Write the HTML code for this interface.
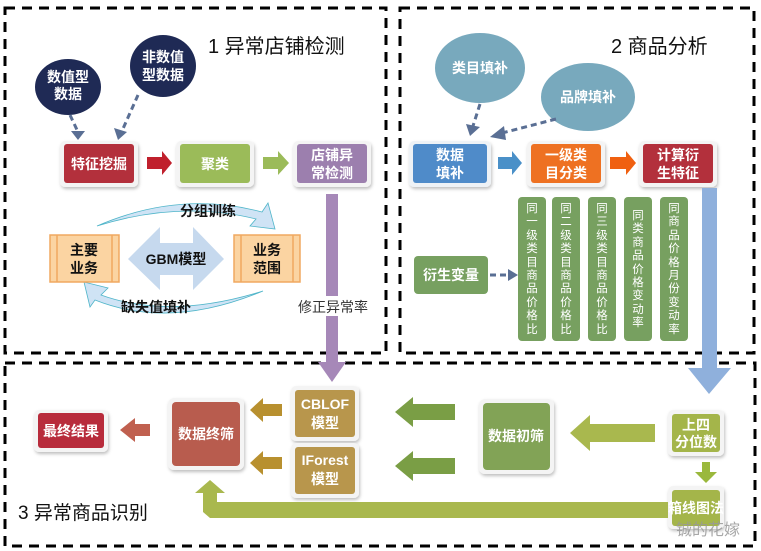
<!DOCTYPE html>
<html><head><meta charset="utf-8"><style>
body{margin:0;background:#fff;}
svg{display:block;font-family:"Liberation Sans","Noto Sans CJK SC",sans-serif;}
.w{fill:#fff;font-weight:bold;font-size:14px;text-anchor:middle;}
.b{fill:#111;font-weight:bold;font-size:14px;text-anchor:middle;}
</style></head><body>
<svg width="761" height="551" viewBox="0 0 761 551">
<defs>
<filter id="s" x="-20%" y="-20%" width="140%" height="140%"><feDropShadow dx="1" dy="2" stdDeviation="1.5" flood-color="#000" flood-opacity="0.25"/></filter>
</defs>
<g fill="none" stroke="#000" stroke-width="3" stroke-dasharray="10,7">
<rect x="5" y="8" width="381" height="345"/>
<rect x="400" y="8" width="354" height="345"/>
<rect x="5" y="363" width="750" height="183"/>
</g>
<text x="208" y="53" font-size="20" fill="#111">1  异常店铺检测</text>
<text x="611" y="53" font-size="20" fill="#111">2  商品分析</text>
<text x="18" y="519" font-size="19" fill="#111">3 异常商品识别</text>

<!-- section 1 -->
<ellipse cx="68" cy="87" rx="33" ry="28" fill="#1f2a55"/>
<text class="w" x="68" y="82">数值型</text><text class="w" x="68" y="99">数据</text>
<ellipse cx="163" cy="66" rx="33" ry="31" fill="#1f2a55"/>
<text class="w" x="163" y="62">非数值</text><text class="w" x="163" y="80">型数据</text>
<g stroke="#5a6f94" stroke-width="3" stroke-dasharray="6,4" fill="none">
<line x1="70" y1="115" x2="78" y2="132"/><line x1="138" y1="95" x2="122" y2="131"/>
</g>
<polygon points="71,131 85,131 78,140" fill="#5a6f94"/>
<polygon points="114,128 127,132 118,140" fill="#5a6f94"/>

<rect x="60" y="141" width="78" height="46" rx="5" fill="#f4f4f4" filter="url(#s)"/>
<rect x="64" y="144" width="70" height="39" rx="3" fill="#b3303c"/>
<text class="w" x="99" y="169">特征挖掘</text>
<polygon points="147,157 162,157 162,151 172,163 162,175 162,169 147,169" fill="#c0202d"/>
<rect x="176" y="141" width="78" height="46" rx="5" fill="#f4f4f4" filter="url(#s)"/>
<rect x="180" y="144" width="70" height="39" rx="3" fill="#9bbb59"/>
<text class="w" x="215" y="169">聚类</text>
<polygon points="263,157 278,157 278,151 289,163 278,175 278,169 263,169" fill="#9bbb59"/>
<rect x="293" y="141" width="78" height="46" rx="5" fill="#f4f4f4" filter="url(#s)"/>
<rect x="297" y="144" width="70" height="39" rx="3" fill="#9c7fae"/>
<text class="w" x="332" y="160">店铺异</text><text class="w" x="332" y="178">常检测</text>

<rect x="326" y="194" width="12" height="170" fill="#a688b8"/>
<polygon points="318,362 346,362 332,382" fill="#a688b8"/>
<rect x="294" y="296" width="78" height="20" fill="#fff"/>
<text x="333" y="312" font-size="14" fill="#333" text-anchor="middle">修正异常率</text>

<path d="M97,226 Q180,190 262,212 L268,203 L275,229 L250,226 L256,219 Q180,200 97,226Z" fill="#cfe3f5" stroke="#4fb5c9" stroke-width="0.8"/>
<text class="b" x="208" y="216" font-size="13">分组训练</text>
<path d="M263,291 Q170,330 95,300 L90,307 L84,282 L108,288 L101,295 Q170,320 263,291Z" fill="#cfe3f5" stroke="#4fb5c9" stroke-width="0.8"/>
<text class="b" x="156" y="312" font-size="13">缺失值填补</text>
<polygon points="128,259 160,227 160,243 193,243 193,227 224,259 193,290 193,275 160,275 160,290" fill="#c6d9ee"/>
<text class="b" x="176" y="264" font-size="13">GBM模型</text>
<g fill="#fbd4a2" stroke="#f0a860" stroke-width="1.5">
<rect x="50" y="235" width="69" height="47"/><rect x="234" y="235" width="66" height="47"/>
</g>
<g stroke="#f0a860" stroke-width="1.5">
<line x1="57" y1="235" x2="57" y2="282"/><line x1="112" y1="235" x2="112" y2="282"/>
<line x1="241" y1="235" x2="241" y2="282"/><line x1="293" y1="235" x2="293" y2="282"/>
</g>
<text class="b" x="84" y="255">主要</text><text class="b" x="84" y="273">业务</text>
<text class="b" x="267" y="255">业务</text><text class="b" x="267" y="273">范围</text>

<!-- section 2 -->
<ellipse cx="480" cy="68" rx="45" ry="35" fill="#78a9bd"/>
<text class="w" x="480" y="73">类目填补</text>
<ellipse cx="588" cy="97" rx="47" ry="34" fill="#78a9bd"/>
<text class="w" x="588" y="102">品牌填补</text>
<g stroke="#5a6f94" stroke-width="3" stroke-dasharray="6,4" fill="none">
<line x1="480" y1="104" x2="473" y2="126"/><line x1="556" y1="119" x2="502" y2="133"/>
</g>
<polygon points="466,124 480,127 470,136" fill="#5a6f94"/>
<polygon points="504,126 506,140 490,137" fill="#5a6f94"/>

<rect x="409" y="141" width="82" height="46" rx="5" fill="#eef2f6" filter="url(#s)"/>
<rect x="413" y="144" width="74" height="39" rx="3" fill="#4f8bc9"/>
<text class="w" x="450" y="160">数据</text><text class="w" x="450" y="178">填补</text>
<polygon points="498,157 512,157 512,151 522,163 512,175 512,169 498,169" fill="#4a90c8"/>
<rect x="527" y="141" width="78" height="46" rx="5" fill="#f4f4f4" filter="url(#s)"/>
<rect x="531" y="144" width="70" height="39" rx="3" fill="#ee7122"/>
<text class="w" x="566" y="160">一级类</text><text class="w" x="566" y="178">目分类</text>
<polygon points="610,157 626,157 626,151 636,163 626,175 626,169 610,169" fill="#f06010"/>
<rect x="639" y="141" width="78" height="46" rx="5" fill="#f4f4f4" filter="url(#s)"/>
<rect x="643" y="144" width="70" height="39" rx="3" fill="#b3303c"/>
<text class="w" x="678" y="160">计算衍</text><text class="w" x="678" y="178">生特征</text>

<rect x="702" y="188" width="15" height="180" fill="#8fb0dc"/>
<polygon points="688,368 731,368 709,394" fill="#8fb0dc"/>

<g fill="#77a060">
<rect x="518" y="197" width="28" height="144" rx="4"/>
<rect x="552" y="197" width="28" height="144" rx="4"/>
<rect x="588" y="197" width="28" height="144" rx="4"/>
<rect x="624" y="197" width="28" height="144" rx="4"/>
<rect x="660" y="197" width="28" height="144" rx="4"/>
</g>
<rect x="414" y="256" width="74" height="38" rx="4" fill="#77a060"/>
<text class="w" x="451" y="280">衍生变量</text>
<line x1="490" y1="275" x2="509" y2="275" stroke="#5a6f94" stroke-width="3" stroke-dasharray="6,4"/>
<polygon points="508,269 518,275 508,281" fill="#5a6f94"/>

<!-- section 3 -->
<rect x="34" y="410" width="74" height="42" rx="5" fill="#f4f4f4" filter="url(#s)"/>
<rect x="38" y="413" width="66" height="35" rx="3" fill="#b82c3c"/>
<text class="w" x="71" y="436">最终结果</text>
<polygon points="150,424 135,424 135,418 120,430 135,442 135,436 150,436" fill="#c0604f"/>
<rect x="168" y="398" width="76" height="72" rx="6" fill="#f4f4f4" filter="url(#s)"/>
<rect x="172" y="402" width="68" height="64" rx="4" fill="#b85c4e"/>
<text class="w" x="206" y="439">数据终筛</text>
<polygon points="282,404 263,404 263,398 250,410 263,422 263,416 282,416" fill="#b8902f"/>
<polygon points="282,457 263,457 263,451 250,463 263,475 263,469 282,469" fill="#b8902f"/>
<rect x="291" y="386" width="68" height="55" rx="5" fill="#f4f4f4" filter="url(#s)"/>
<rect x="295" y="390" width="60" height="47" rx="3" fill="#b8964c"/>
<text class="w" x="325" y="409">CBLOF</text><text class="w" x="325" y="428">模型</text>
<rect x="291" y="443" width="68" height="55" rx="5" fill="#f4f4f4" filter="url(#s)"/>
<rect x="295" y="447" width="60" height="47" rx="3" fill="#b8964c"/>
<text class="w" x="325" y="465">IForest</text><text class="w" x="325" y="484">模型</text>
<polygon points="455,404 413,404 413,397 395,412 413,427 413,420 455,420" fill="#7a9e45"/>
<polygon points="455,458 413,458 413,451 395,466 413,481 413,474 455,474" fill="#7a9e45"/>
<rect x="479" y="399" width="75" height="75" rx="6" fill="#f4f4f4" filter="url(#s)"/>
<rect x="483" y="403" width="67" height="67" rx="4" fill="#82a356"/>
<text class="w" x="516" y="441">数据初筛</text>
<polygon points="655,424 590,424 590,415 570,433 590,451 590,442 655,442" fill="#a9b84e"/>
<rect x="668" y="410" width="56" height="46" rx="5" fill="#f4f4f4" filter="url(#s)"/>
<rect x="672" y="414" width="48" height="38" rx="3" fill="#a4b54a"/>
<text class="w" x="696" y="430">上四</text><text class="w" x="696" y="447">分位数</text>
<polygon points="702,462 710,462 710,472 717,472 706,483 695,472 702,472" fill="#9ab83c"/>
<rect x="668" y="486" width="56" height="43" rx="5" fill="#f4f4f4" filter="url(#s)"/>
<rect x="672" y="490" width="48" height="36" rx="3" fill="#a4b54a"/>
<text class="w" x="696" y="513" font-size="12.5">箱线图法</text>
<polygon points="668,502 668,518 210,518 203,512 203,493 195,493 210,480 225,493 217,493 217,502" fill="#a9b84e"/>
<text x="708" y="535" font-size="16" fill="#999" text-anchor="middle" opacity="0.85">铖的花嫁</text>
</svg>
<div style="position:absolute;left:0;top:0;width:761px;height:551px;pointer-events:none;font-family:'Liberation Sans','Noto Sans CJK SC',sans-serif;color:#fff;font-size:11.5px;line-height:13.4px;">
<div style="position:absolute;left:518px;top:203px;width:28px;text-align:center;">同<br>一<br>级<br>类<br>目<br>商<br>品<br>价<br>格<br>比</div>
<div style="position:absolute;left:552px;top:203px;width:28px;text-align:center;">同<br>二<br>级<br>类<br>目<br>商<br>品<br>价<br>格<br>比</div>
<div style="position:absolute;left:588px;top:203px;width:28px;text-align:center;">同<br>三<br>级<br>类<br>目<br>商<br>品<br>价<br>格<br>比</div>
<div style="position:absolute;left:624px;top:210px;width:28px;text-align:center;">同<br>类<br>商<br>品<br>价<br>格<br>变<br>动<br>率</div>
<div style="position:absolute;left:660px;top:203px;width:28px;text-align:center;">同<br>商<br>品<br>价<br>格<br>月<br>份<br>变<br>动<br>率</div>
</div>
</body></html>
